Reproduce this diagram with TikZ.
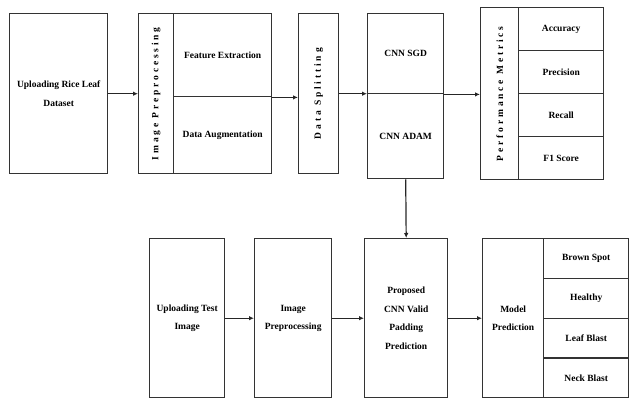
\documentclass[tikz,border=0pt]{standalone}
\usepackage{graphicx}
\usepackage{fontspec}
\setmainfont{Liberation Serif}
\usetikzlibrary{arrows.meta}
\newcommand{\vtext}[1]{\rotatebox{90}{\addfontfeature{LetterSpace=30}#1}}
\tikzset{
  box/.style={draw=black!80, line width=1.4pt, rectangle, inner sep=1pt, align=center,
    anchor=north west, font=\bfseries\fontsize{9.5}{18.5}\selectfont},
  arr/.style={draw=black!85, line width=1.2pt, -{Latex[length=5pt,width=4.5pt]}},
}
\begin{document}
\begin{tikzpicture}[x=1pt,y=-1pt]
\useasboundingbox (0,0) rectangle (629,400);
% top row
\node[box, minimum width=98pt, minimum height=160pt] (upl) at (9,13) {Uploading Rice Leaf\\Dataset};
\node[box, minimum width=133pt, minimum height=160pt] (ip) at (138,13) {};
\node[box, minimum width=35pt, minimum height=160pt] (ipL) at (138,13) {\vtext{Image Preprocessing}};
\node[box, minimum width=98pt, minimum height=83pt] (ipA) at (173,13) {Feature Extraction};
\node[box, minimum width=98pt, minimum height=77pt] (ipB) at (173,96) {Data Augmentation};
\node[box, minimum width=40pt, minimum height=160pt] (ds) at (298,13) {\vtext{Data Splitting}};
\node[box, minimum width=76pt, minimum height=165pt] (cnn) at (367,13) {};
\node[box, minimum width=76pt, minimum height=80pt] (cnnA) at (367,13) {CNN SGD};
\node[box, minimum width=76pt, minimum height=85pt] (cnnB) at (367,93) {CNN ADAM};
\node[box, minimum width=123pt, minimum height=172pt] (pm) at (480,7) {};
\node[box, minimum width=38pt, minimum height=172pt] (pmL) at (480,7) {\vtext{Performance Metrics}};
\node[box, minimum width=85pt, minimum height=43pt] (pm1) at (518,7) {Accuracy};
\node[box, minimum width=85pt, minimum height=43pt] (pm2) at (518,50) {Precision};
\node[box, minimum width=85pt, minimum height=43pt] (pm3) at (518,93) {Recall};
\node[box, minimum width=85pt, minimum height=43pt] (pm4) at (518,136) {F1 Score};
% bottom row
\node[box, minimum width=75pt, minimum height=159pt] (ut) at (149,238) {Uploading Test\\Image};
\node[box, minimum width=77pt, minimum height=159pt] (ip2) at (254,238) {Image\\Preprocessing};
\node[box, minimum width=83pt, minimum height=159pt] (prop) at (364,238) {Proposed\\CNN Valid\\Padding\\Prediction};
\node[box, minimum width=146pt, minimum height=159pt] (mp) at (482,238) {};
\node[box, minimum width=61pt, minimum height=159pt] (mpL) at (482,238) {Model\\Prediction};
\node[box, minimum width=85pt, minimum height=39.75pt] (mp1) at (543,238) {Brown Spot};
\node[box, minimum width=85pt, minimum height=39.75pt] (mp2) at (543,277.75) {Healthy};
\node[box, minimum width=85pt, minimum height=39.75pt] (mp3) at (543,317.5) {Leaf Blast};
\node[box, minimum width=85pt, minimum height=39.75pt] (mp4) at (543,357.25) {Neck Blast};
% connectors
\draw[arr] (upl.east) -- (ip.west);
\draw[arr] (ipA.south east) -- (ipA.south east -| ds.west);
\draw[arr] (ds.east) -- (ds.east -| cnn.west);
\draw[arr] (cnnA.south east) -- (cnnA.south east -| pm.west);
\draw[arr] (cnn.south) -- (prop.north);
\draw[arr] (ut.east) -- (ip2.west);
\draw[arr] (ip2.east) -- (prop.west);
\draw[arr] (prop.east) -- (mp.west);
\end{tikzpicture}
\end{document}
